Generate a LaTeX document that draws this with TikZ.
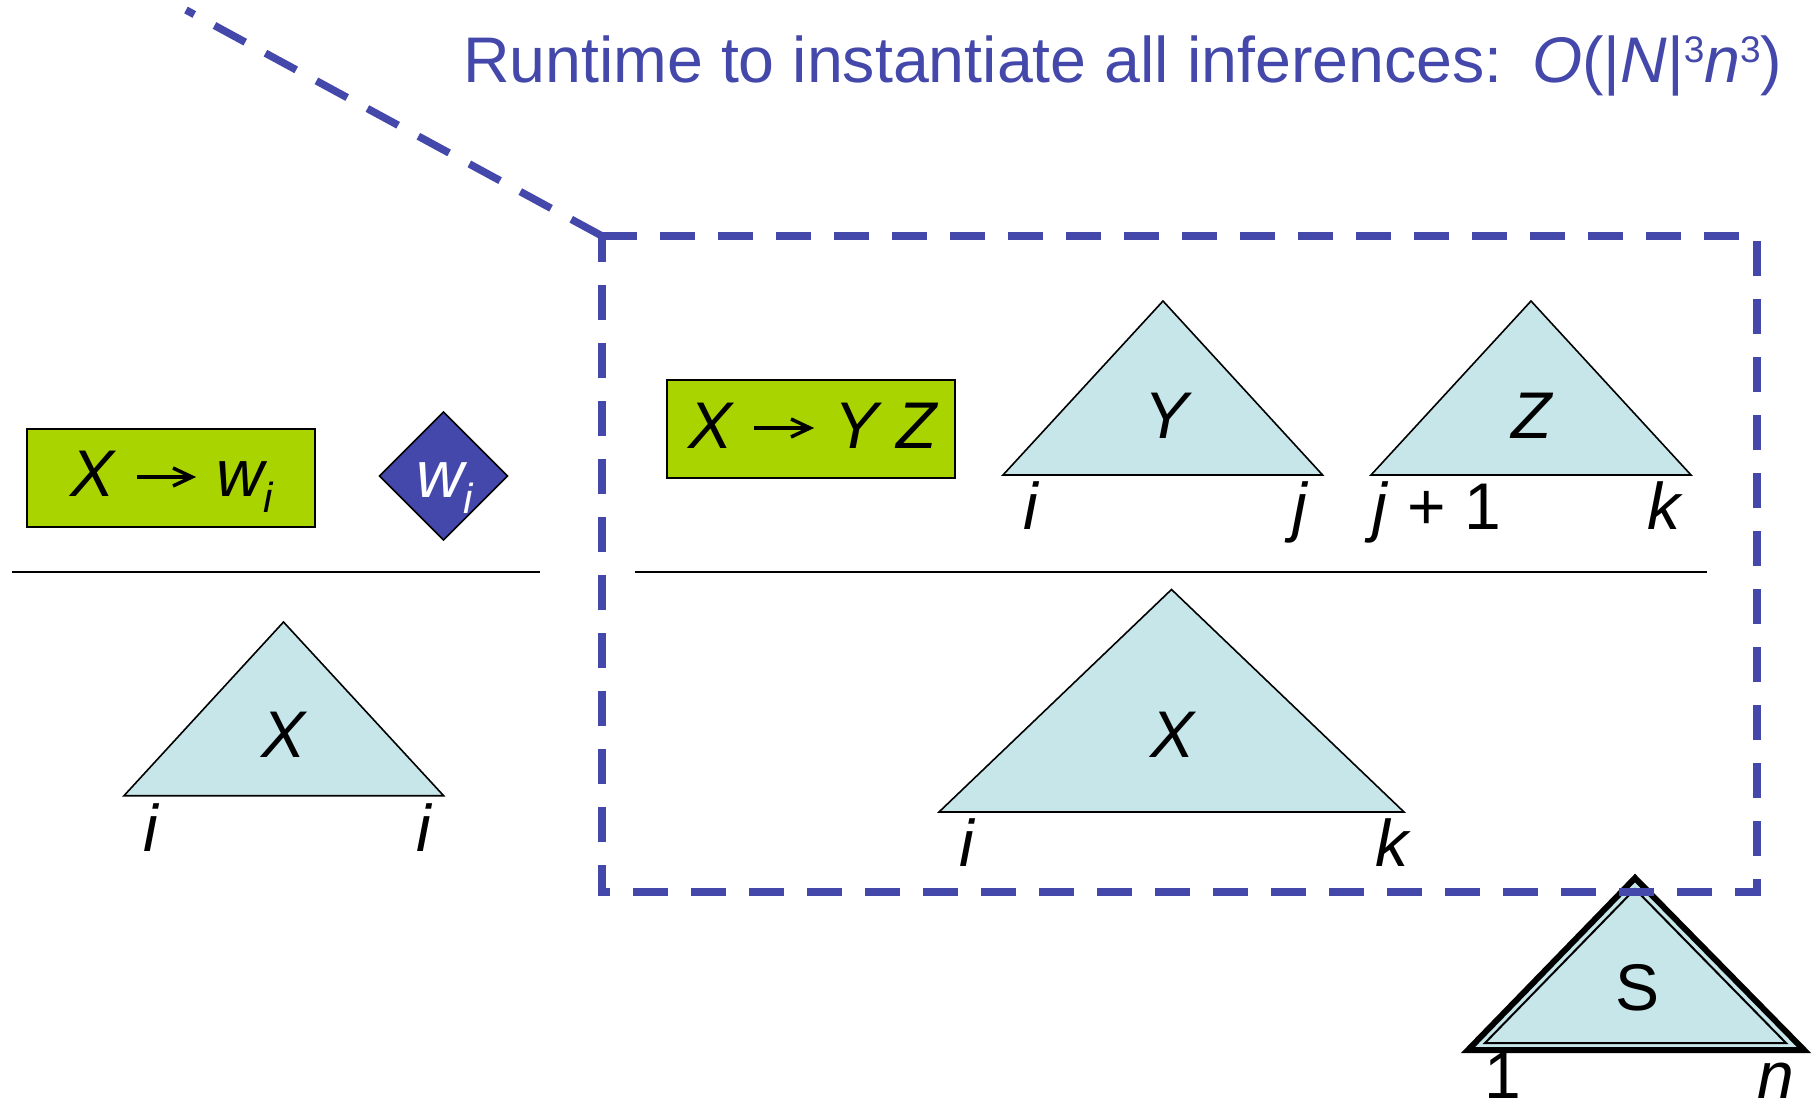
\documentclass[tikz,border=0pt]{standalone}
\usepackage{fontspec}
\setmainfont{Liberation Sans}
\definecolor{pblue}{RGB}{67,72,170}
\definecolor{lgreen}{RGB}{170,212,0}
\definecolor{tcyan}{RGB}{198,230,233}
\newcommand{\subi}{\raisebox{-16pt}{\fontsize{42}{42}\selectfont\itshape i}}
\newcommand{\supthree}{\raisebox{20pt}{\fontsize{37}{37}\selectfont 3}}
\tikzset{
  tri/.style={fill=tcyan, draw=black, line width=1.6pt, line join=miter},
  rulebar/.style={draw=black, line width=2pt},
  rulebox/.style={fill=lgreen, draw=black, line width=2pt},
  dashblue/.style={draw=pblue, line width=7.5pt, dash pattern=on 35pt off 23pt},
  lab/.style={anchor=base, inner sep=0pt, outer sep=0pt, font=\fontsize{66}{79}\selectfont},
  labw/.style={lab, anchor=base west},
  rarrow/.style={draw=black, line width=3.5pt},
}
\begin{document}
\begin{tikzpicture}[x=1pt,y=-1pt]
\useasboundingbox (0,0) rectangle (1816,1107);

% left rule
\node[rulebox, minimum width=288pt, minimum height=98pt, inner sep=0pt] (r1) at (171,478) {};
\node[labw] (r1x) at (70,496) {\itshape X};
\coordinate (a1s) at (137,477); \coordinate (a1e) at (191,477);
\draw[rarrow] (a1s) -- (a1e);
\draw[rarrow, line join=miter] (173,468) -- (192,477) -- (173,486);
\node[labw] (r1w) at (216,496) {\itshape w\subi};
\draw[fill=pblue, draw=black, line width=1.6pt] (443.6,412) coordinate (dT) -- (507.6,476) coordinate (dR) -- (443.6,540) coordinate (dB) -- (379.6,476) coordinate (dL) -- cycle;
\node[labw, text=white] (wi) at (416,497) {\itshape w\subi};
\coordinate (l1a) at (11.6,572); \coordinate (l1b) at (540,572);
\draw[rulebar] (l1a) -- (l1b);
% left X triangle
\coordinate (xa) at (283.5,622); \coordinate (xl) at (124,795.7); \coordinate (xr) at (443.6,795.7);
\draw[tri] (xa) -- (xr) -- (xl) -- cycle;
\node[lab] (xlab) at (283.5,757) {\itshape X};
\node[lab] (xi1) at (150.6,851) {\itshape i};
\node[lab] (xi2) at (424,851) {\itshape i};

% right rule
\node[rulebox, minimum width=288.5pt, minimum height=98pt, inner sep=0pt] (r2) at (811.2,429) {};
\node[labw] (r2x) at (688,448) {\itshape X};
\coordinate (a2s) at (754,428); \coordinate (a2e) at (809,428);
\draw[rarrow] (a2s) -- (a2e);
\draw[rarrow, line join=miter] (791,419) -- (810,428) -- (791,437);
\node[labw] (r2yz) at (834,448) {\itshape Y Z};
% Y
\coordinate (ya) at (1163,301); \coordinate (yl) at (1003,475); \coordinate (yr) at (1322.6,475);
\draw[tri] (ya) -- (yr) -- (yl) -- cycle;
\node[lab] (ylab) at (1166,438) {\itshape Y};
\node[lab] (yi) at (1031,529) {\itshape i};
\node[lab] (yj) at (1300,529) {\itshape j};
% Z
\coordinate (za) at (1531,301); \coordinate (zl) at (1371,475); \coordinate (zr) at (1691,475);
\draw[tri] (za) -- (zr) -- (zl) -- cycle;
\node[lab] (zlab) at (1532,438) {\itshape Z};
\node[lab] (zj) at (1437,529) {\itshape j\/\upshape\ + 1};
\node[lab] (zk) at (1664,529) {\itshape k};
\coordinate (l2a) at (634.7,572); \coordinate (l2b) at (1707,572);
\draw[rulebar] (l2a) -- (l2b);
% big X
\coordinate (bxa) at (1171.5,589.5); \coordinate (bxl) at (939,812); \coordinate (bxr) at (1404,812);
\draw[tri] (bxa) -- (bxr) -- (bxl) -- cycle;
\node[lab] (bxlab) at (1172,757) {\itshape X};
\node[lab] (bxi) at (967,866) {\itshape i};
\node[lab] (bxk) at (1392,866) {\itshape k};

% S triangle
\coordinate (sa) at (1635,878); \coordinate (sl) at (1468,1050); \coordinate (sr) at (1804,1050);
\draw[tri, line width=6pt] (sa) -- (sr) -- (sl) -- cycle;
\coordinate (sia) at (1635,889); \coordinate (sil) at (1485,1043); \coordinate (sir) at (1786,1043);
\draw[draw=black, line width=2pt, line join=miter] (sia) -- (sir) -- (sil) -- cycle;
\node[lab] (slab) at (1637,1010) {S};
\node[lab] (s1) at (1503,1098) {1};
\node[lab] (sn) at (1776,1098) {\itshape n};

% dashed box and line
\coordinate (bTL) at (602,236); \coordinate (bTR) at (1757,236);
\coordinate (bBR) at (1757,892); \coordinate (bBL) at (602,892);
\coordinate (dtop) at (186,10);
\draw[dashblue, line join=miter] (bTL) -- (bTR) -- (bBR) -- (bBL) -- cycle;
\draw[dashblue] (bTL) -- (dtop);

% title
\node[labw, text=pblue, font=\fontsize{64.5}{78}\selectfont] (title) at (463,83) {Runtime to instantiate all inferences:};
\node[labw, text=pblue, font=\fontsize{64.5}{78}\selectfont] (title2) at (1532,83) {\itshape O\/\upshape(|\itshape N\/\upshape|\supthree\itshape n\/\upshape\supthree)};
\end{tikzpicture}
\end{document}
